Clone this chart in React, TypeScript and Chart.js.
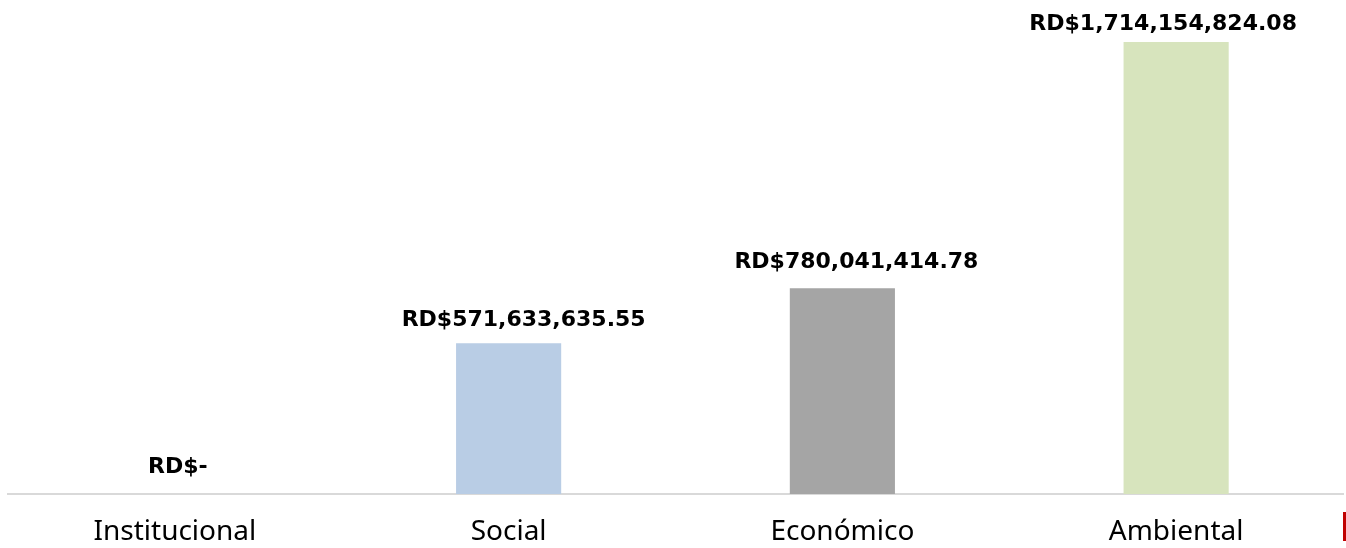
import React, { useEffect, useRef } from "react";
import { Chart, registerables } from "chart.js";

Chart.register(...registerables);

const categories = ["Institucional", "Social", "Económico", "Ambiental"];
const values = [0, 571633635.55, 780041414.78, 1714154824.08];
const barColors = ["#4F81BD", "#B9CDE5", "#A5A5A5", "#D7E4BD"];

const formatRD = (v: number) =>
  v === 0
    ? "RD$-"
    : "RD$" +
      v.toLocaleString("en-US", { minimumFractionDigits: 2, maximumFractionDigits: 2 });

const labelPlugin = {
  id: "valueLabels",
  afterDatasetsDraw(chart: any, _args: any, opts: any) {
    const ctx = chart.ctx;
    const meta = chart.getDatasetMeta(0);
    const dx: number[] = opts.dx || [];
    const gap: number[] = opts.gap || [];
    ctx.save();
    ctx.font = "bold 22px 'DejaVu Sans', sans-serif";
    ctx.fillStyle = "#000000";
    ctx.textAlign = "center";
    ctx.textBaseline = "alphabetic";
    meta.data.forEach((bar: any, i: number) => {
      ctx.fillText(formatRD(values[i]), bar.x + (dx[i] || 0), bar.y - (gap[i] ?? 17));
    });
    ctx.restore();
  },
};

export default function App() {
  const ref = useRef<HTMLCanvasElement>(null);
  useEffect(() => {
    if (!ref.current) return;
    const chart = new Chart(ref.current, {
      type: "bar",
      data: {
        labels: categories,
        datasets: [
          {
            data: values,
            backgroundColor: barColors,
            borderWidth: 0,
            categoryPercentage: 1,
            barPercentage: 0.315,
          },
        ],
      },
      options: {
        animation: false,
        responsive: false,
        maintainAspectRatio: false,
        layout: { padding: { left: 8, right: 3, top: 42, bottom: 0 } },
        plugins: {
          legend: { display: false },
          tooltip: { enabled: false },
          valueLabels: { dx: [3, 15, 14, -13], gap: [21, 17, 20, 12] },
        } as any,
        scales: {
          x: {
            grid: { display: false, drawTicks: false },
            border: { display: true, color: "#D9D9D9", width: 2 },
            ticks: {
              color: "#000000",
              padding: 21,
              font: { family: "'Noto Sans', sans-serif", size: 28 },
            },
            afterFit: (scale: any) => {
              scale.height = 54;
            },
          },
          y: {
            display: false,
            min: 0,
            max: values[3],
          },
        },
      },
      plugins: [labelPlugin],
    });
    return () => chart.destroy();
  }, []);
  return (
    <div style={{ position: "absolute", left: 0, top: 0, width: 1346, height: 548, background: "#fff" }}>
      <canvas ref={ref} width={1346} height={548} />
      <div style={{ position: "absolute", left: 1343, top: 512, width: 3, height: 29, background: "#C00000" }} />
    </div>
  );
}
